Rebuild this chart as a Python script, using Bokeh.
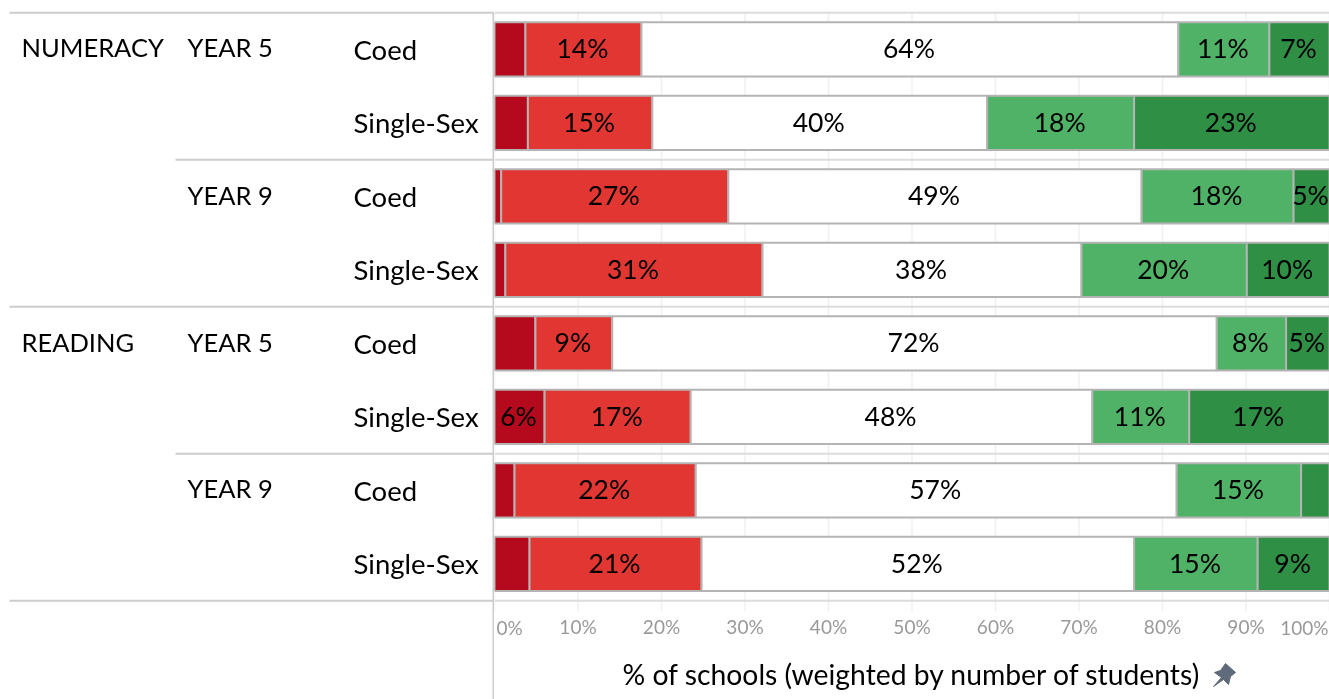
from bokeh.plotting import figure
from bokeh.layouts import row, column
from bokeh.models import Range1d, FixedTicker, LinearAxis, ColumnDataSource
from bokeh.core.properties import value
from bokeh.embed import file_html
from bokeh.resources import INLINE

subjects = ["NUMERACY", "READING"]
years = ["YEAR 5", "YEAR 9", "YEAR 5", "YEAR 9"]
schools = ["Coed", "Single-Sex"] * 4
v1 = [3.7, 4.0, 0.8, 1.3, 4.9, 6.0, 2.4, 4.2]
v2 = [13.9, 14.9, 27.2, 30.8, 9.2, 17.5, 21.7, 20.6]
v3 = [64.3, 40.1, 49.5, 38.2, 72.4, 48.1, 57.6, 51.8]
v4 = [10.9, 17.6, 18.2, 19.8, 8.3, 11.6, 14.9, 14.8]
v5 = [7.2, 23.4, 4.3, 9.9, 5.2, 16.8, 3.4, 8.6]
series = [v1, v2, v3, v4, v5]
labels = [
    ["", "", "", "", "", "6%", "", ""],
    ["14%", "15%", "27%", "31%", "9%", "17%", "22%", "21%"],
    ["64%", "40%", "49%", "38%", "72%", "48%", "57%", "52%"],
    ["11%", "18%", "18%", "20%", "8%", "11%", "15%", "15%"],
    ["7%", "23%", "5%", "10%", "5%", "17%", "", "9%"],
]
colors = ["#b5091d", "#e23633", "#ffffff", "#50b266", "#2e8f45"]
ticks = [10, 20, 30, 40, 50, 60, 70, 80, 90]
pin_x = [1213, 1221, 1214, 1220, 1225, 1235, 1230, 1228, 1223]
pin_y = [686, 677, 672, 670, 663, 672, 676, 684, 679]
FONT = value("Lato")

def rw(px):
    return (px - 48.9) / 73.5

TOTAL_W, TOTAL_H, LEFT_W = 1329, 699, 494
FRAME_H = 611

left = figure(width=LEFT_W, height=TOTAL_H, x_range=Range1d(0, LEFT_W),
              y_range=Range1d(rw(TOTAL_H), rw(0)), output_backend="svg",
              toolbar_location=None, min_border=0, outline_line_color=None)
left.axis.visible = False
left.grid.visible = False

left.segment(x0=[9, 9, 9], x1=[LEFT_W] * 3, y0=[-0.5, 3.5, 7.5], y1=[-0.5, 3.5, 7.5],
             line_color="#cccccc", line_width=2)
left.segment(x0=[175, 175], x1=[LEFT_W] * 2, y0=[1.5, 5.5], y1=[1.5, 5.5],
             line_color="#cccccc", line_width=2)
left.segment(x0=[493], x1=[493], y0=[-0.5], y1=[rw(TOTAL_H)], line_color="#cccccc", line_width=2)

TS = "26.5px"
left.text(x=[21, 21], y=[rw(46), rw(341)], text=subjects, text_font=FONT, text_font_size="25.5px",
          text_baseline="middle", text_color="#000000")
left.text(x=[187] * 4, y=[rw(46), rw(194), rw(341), rw(487)], text=years, text_font=FONT,
          text_font_size="25.5px", text_baseline="middle", text_color="#000000")
left.text(x=[353] * 8, y=list(range(8)), text=schools, text_font=FONT, text_font_size="27.5px",
          text_baseline="middle", text_color="#000000")

right = figure(width=TOTAL_W - LEFT_W, height=TOTAL_H, x_range=Range1d(0, 100),
               y_range=Range1d(rw(FRAME_H), rw(0)), output_backend="svg",
               toolbar_location=None, min_border=0, min_border_bottom=TOTAL_H - FRAME_H,
               outline_line_color=None, x_axis_location=None, y_axis_location=None)
right.grid.visible = False

grid_x = [0] + ticks + [100]
right.segment(x0=grid_x, x1=grid_x, y0=[-0.5] * len(grid_x), y1=[rw(FRAME_H)] * len(grid_x),
              line_color="#f0f0f0", line_width=1.5)
right.segment(x0=[0] * 5, x1=[100] * 5, y0=[-0.5, 1.5, 3.5, 5.5, 7.5], y1=[-0.5, 1.5, 3.5, 5.5, 7.5],
              line_color="#dcdcdc", line_width=2)

ypos = list(range(8))
cum = [0.0] * 8
for vals, col, labs in zip(series, colors, labels):
    end = [c + v for c, v in zip(cum, vals)]
    src = ColumnDataSource(dict(y=ypos, left=cum, right=end, mid=[(a + b) / 2 for a, b in zip(cum, end)], lab=labs))
    right.hbar(y="y", left="left", right="right", height=0.74, source=src, fill_color=col,
               line_color="#b4b4b4", line_width=2)
    right.text(x="mid", y="y", text="lab", source=src, text_font=FONT, text_font_size=TS,
               text_align="center", text_baseline="middle", text_color="#000000", y_offset=-1, x_offset=-1)
    cum = end

axis = LinearAxis(ticker=FixedTicker(ticks=ticks),
                  major_label_overrides={t: f"{t}%" for t in ticks},
                  axis_line_color=None, major_tick_line_color=None, minor_tick_line_color=None,
                  major_label_text_font="Lato", major_label_text_font_size="19px",
                  major_label_text_color="#999999", major_label_standoff=-3,
                  axis_label="% of schools (weighted by number of students)",
                  axis_label_text_font="Lato", axis_label_text_font_style="normal",
                  axis_label_text_font_size="28.3px", axis_label_text_color="#000000",
                  axis_label_standoff=16)
right.add_layout(axis, "below")

# transparent strip over the axis area: the end tick labels and the pin icon
strip = figure(width=TOTAL_W - LEFT_W, height=TOTAL_H - FRAME_H, x_range=Range1d(LEFT_W, TOTAL_W),
               y_range=Range1d(TOTAL_H, FRAME_H), output_backend="svg", toolbar_location=None,
               min_border=0, outline_line_color=None, background_fill_alpha=0, border_fill_alpha=0,
               styles={"position": "fixed", "left": f"{LEFT_W}px", "top": f"{FRAME_H}px"})
strip.axis.visible = False
strip.grid.visible = False
strip.text(x=[LEFT_W + 2], y=[627], text=["0%"], text_font=FONT, text_font_size="19px",
           text_color="#999999", text_align="left", text_baseline="middle")
strip.text(x=[TOTAL_W - 1], y=[627], text=["100%"], text_font=FONT, text_font_size="19px",
           text_color="#999999", text_align="right", text_baseline="middle")
strip.patch(x=pin_x, y=pin_y, fill_color="#5f6b7a", line_color="#5f6b7a", line_width=1)

page = row(column(left), column(right), strip, spacing=0,
           styles={"position": "fixed", "left": "0", "top": "0", "gap": "0"})
open("out.html", "w").write(file_html(page, INLINE))
